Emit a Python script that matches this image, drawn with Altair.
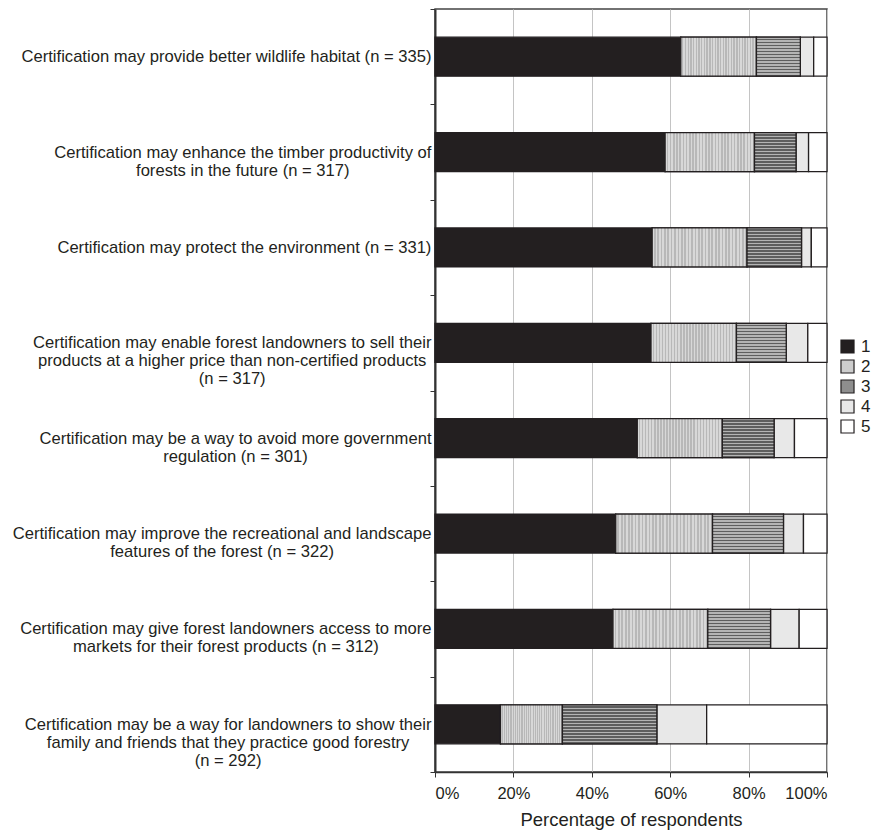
import json
import altair as alt
import pandas as pd

# ---- data (percent of respondents, ratings 1..5) ----
statements = [
    "Certification may provide better wildlife habitat (n = 335)",
    "Certification may enhance the timber productivity of|forests in the future (n = 317)",
    "Certification may protect the environment (n = 331)",
    "Certification may enable forest landowners to sell their|products at a higher price than non-certified products|(n = 317)",
    "Certification may be a way to avoid more government|regulation (n = 301)",
    "Certification may improve the recreational and landscape|features of the forest (n = 322)",
    "Certification may give forest landowners access to more|markets for their forest products (n = 312)",
    "Certification may be a way for landowners to show their|family and friends that they practice good forestry|(n = 292)",
]
ratings = ["1", "2", "3", "4", "5"]
seg1 = [62.7, 58.7, 55.4, 55.1, 51.6, 46.1, 45.4, 16.7]
seg2 = [19.3, 22.8, 24.2, 21.8, 21.7, 24.7, 24.2, 15.8]
seg3 = [11.2, 10.6, 13.9, 12.7, 13.2, 18.1, 16.0, 24.1]
seg4 = [3.4, 3.2, 2.5, 5.5, 5.2, 5.1, 7.3, 12.7]
seg5 = [3.4, 4.7, 4.0, 4.9, 8.3, 6.0, 7.1, 30.7]
x_ticks = [0, 20, 40, 60, 80, 100]

rows = []
for i, s in enumerate(statements):
    start = 0.0
    for r, v in zip(ratings, [seg1[i], seg2[i], seg3[i], seg4[i], seg5[i]]):
        rows.append({"statement": s, "rating": r, "start": start, "end": start + v})
        start += v
df = pd.DataFrame(rows)

# ---- label layout: centre each multi-line label, right edge next to axis ----
FONT = "Liberation Sans"
LABEL_SIZE = 16.6
ARIAL = {
    "a": 556, "b": 556, "c": 500, "d": 556, "e": 556, "f": 278, "g": 556, "h": 556,
    "i": 222, "j": 222, "k": 500, "l": 222, "m": 833, "n": 556, "o": 556, "p": 556,
    "q": 556, "r": 333, "s": 500, "t": 278, "u": 556, "v": 500, "w": 722, "x": 500,
    "y": 500, "z": 500, " ": 278, "(": 333, ")": 333, "=": 584, "-": 333, "C": 722,
}


def text_width(s, size):
    return sum(ARIAL.get(ch, 556) for ch in s) * size / 1000.0


pad_conditions = []
for s in statements:
    w = max(text_width(line, LABEL_SIZE) for line in s.split("|"))
    pad_conditions.append({"test": "datum.value === " + json.dumps(s), "value": round(w / 2 - 1, 1)})

INK = "#231f20"
fill_colors = [INK, "#cdcdcd", "#8e8e8e", "#e8e8e8", "#ffffff"]


def stripe_gradient(n, c1, c2, horizontal_lines):
    stops = []
    for k in range(n):
        a = k / n
        b = (k + 0.5) / n
        c = (k + 1) / n
        stops += [
            alt.GradientStop(offset=a, color=c1),
            alt.GradientStop(offset=b, color=c1),
            alt.GradientStop(offset=b, color=c2),
            alt.GradientStop(offset=c, color=c2),
        ]
    if horizontal_lines:
        return alt.LinearGradient(gradient="linear", x1=0, y1=0, x2=0, y2=1, stops=stops)
    return alt.LinearGradient(gradient="linear", x1=0, y1=0, x2=1, y2=0, stops=stops)


stripes3 = stripe_gradient(13, "#b4b4b4", "#5e5e5e", True)
stipple2 = stripe_gradient(28, "#d8d8d8", "#b8b8b8", False)

x_enc = alt.X(
    "start:Q",
    scale=alt.Scale(domain=[0, 100], nice=False),
    axis=alt.Axis(
        values=x_ticks,
        labelExpr="datum.value + '%'",
        title="Percentage of respondents",
        titleFontSize=18.5,
        titleFontWeight="normal",
        titleColor=INK,
        titlePadding=9,
        labelFontSize=16.5,
        labelColor=INK,
        labelPadding=8,
        tickSize=5,
        tickColor="#333333",
        domainColor="#333333",
        domainWidth=1.5,
        grid=True,
        gridColor="#c4c4c4",
        gridWidth=1,
    ),
)
y_enc = alt.Y(
    "statement:N",
    sort=statements,
    scale=alt.Scale(paddingInner=0, paddingOuter=0),
    axis=alt.Axis(
        title=None,
        labelExpr="split(datum.label, '|')",
        labelAlign="center",
        labelBaseline="middle",
        labelPadding={"condition": pad_conditions, "value": 0},
        labelFontSize=LABEL_SIZE,
        labelLineHeight=18,
        labelLimit=700,
        labelColor=INK,
        tickBand="extent",
        tickSize=5,
        tickColor="#333333",
        domainColor="#333333",
        domainWidth=2,
        grid=False,
    ),
)

bars = alt.Chart(df).mark_bar(size=39, stroke=INK, strokeWidth=1.3).encode(
    x=x_enc,
    x2="end:Q",
    y=y_enc,
    fill=alt.Fill(
        "rating:N",
        scale=alt.Scale(domain=ratings, range=fill_colors),
        legend=alt.Legend(
            title=None,
            orient="none",
            legendX=404,
            legendY=329,
            symbolType="square",
            symbolSize=170,
            symbolStrokeColor=INK,
            symbolStrokeWidth=1.2,
            labelFontSize=17,
            labelColor=INK,
            labelOffset=5,
            rowPadding=1,
            padding=0,
        ),
    ),
)

striped = (
    alt.Chart(df)
    .transform_filter("datum.rating == '3'")
    .mark_bar(size=39, stroke=INK, strokeWidth=1.3, fill=stripes3)
    .encode(x=x_enc, x2="end:Q", y=y_enc)
)

stippled = (
    alt.Chart(df)
    .transform_filter("datum.rating == '2'")
    .mark_bar(size=39, stroke=INK, strokeWidth=1.3, fill=stipple2)
    .encode(x=x_enc, x2="end:Q", y=y_enc)
)

chart = (
    alt.layer(bars, stippled, striped)
    .properties(
        width=392,
        height=763,
        autosize=alt.AutoSizeParams(type="none"),
        padding={"left": 427, "top": 1, "right": 58, "bottom": 64},
    )
    .configure(font=FONT)
    .configure_view(stroke="#444444", strokeWidth=1.5)
)

chart.save("out.html", embed_options={"renderer": "svg", "actions": False})
